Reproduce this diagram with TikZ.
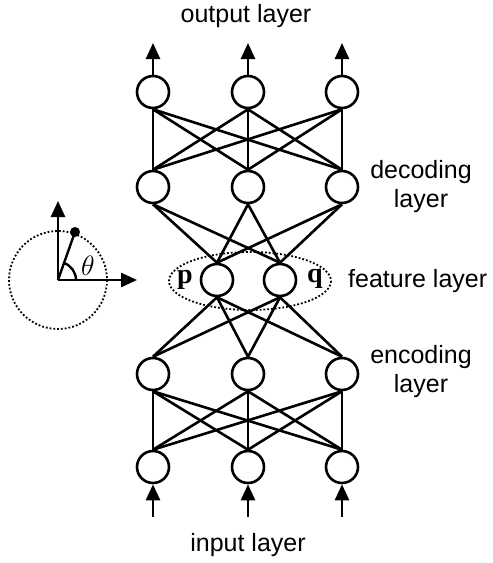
\RequirePackage{fix-cm}
\documentclass[tikz,border=0pt]{standalone}
\usepackage{fontspec}
\setmainfont{Liberation Sans}
\newfontfamily\serifbf{Liberation Serif}
\usetikzlibrary{arrows.meta,calc}
\begin{document}
\begin{tikzpicture}[x=1pt,y=-1pt,
  neuron/.style={circle,draw,line width=2.6pt,minimum size=32pt,inner sep=0pt},
  link/.style={line width=2.6pt},
  arr/.style={line width=2.6pt,-{Triangle[length=16pt,width=14pt]}},
  lbl/.style={font=\fontsize{25}{29}\selectfont,align=center,inner sep=0pt},
  pq/.style={font=\serifbf\bfseries\fontsize{28}{30}\selectfont,inner sep=0pt}]
\useasboundingbox (0,0) rectangle (493,563);
% nodes
\foreach \n/\x in {1/153,2/248,3/342}{
  \node[neuron] (o\n) at (\x,92) {};
  \node[neuron] (d\n) at (\x,187) {};
  \node[neuron] (e\n) at (\x,374) {};
  \node[neuron] (i\n) at (\x,467) {};
}
\node[neuron] (p) at (217,280) {};
\node[neuron] (q) at (280,280) {};
% feature ellipse
\draw[line width=1.8pt,dotted] (250,281) ellipse [x radius=81, y radius=29];
% connections
\foreach \a in {1,2,3}{\foreach \b in {1,2,3}{
  \draw[link] (o\a.south) -- (d\b.north);
  \draw[link] (e\a.south) -- (i\b.north);
}}
\foreach \a in {1,2,3}{
  \draw[link] (d\a.south) -- (p.north);
  \draw[link] (d\a.south) -- (q.north);
  \draw[link] (p.south) -- (e\a.north);
  \draw[link] (q.south) -- (e\a.north);
}
% io arrows
\foreach \n/\x in {1/153,2/248,3/342}{
  \coordinate (ot\n) at (\x,43);
  \coordinate (ib\n) at (\x,517);
  \draw[arr] (o\n.north) -- (ot\n);
  \draw[arr] (ib\n) -- (i\n.south);
}
% labels
\node[lbl] (tout) at (246,16) {output layer};
\node[lbl] (tin) at (248,545) {input layer};
\node[lbl] (tdec) at (421,187) {decoding\\layer};
\node[lbl] (tenc) at (421,372) {encoding\\layer};
\node[lbl,anchor=west] (tfeat) at (348,281) {feature layer};
\node[pq] (lp) at (185,280) {p};
\node[pq] (lq) at (315,279) {q};
% polar sketch
\coordinate (O) at (58,280);
\coordinate (ytip) at (58,201);
\coordinate (xtip) at (137,280);
\coordinate (dot) at (75,232);
\draw[line width=1.8pt,dotted] (O) circle [radius=49];
\draw[arr] (O) -- (ytip);
\draw[arr] (O) -- (xtip);
\draw[line width=2.4pt] (O) -- (dot);
\fill (dot) circle [radius=5];
\draw[line width=2.4pt] ($(O)+(18,0)$) arc [start angle=0, end angle=-70, radius=18];
\node[font=\fontsize{28}{30}\selectfont,inner sep=0pt] (th) at (88,266) {$\theta$};
\end{tikzpicture}
\end{document}
